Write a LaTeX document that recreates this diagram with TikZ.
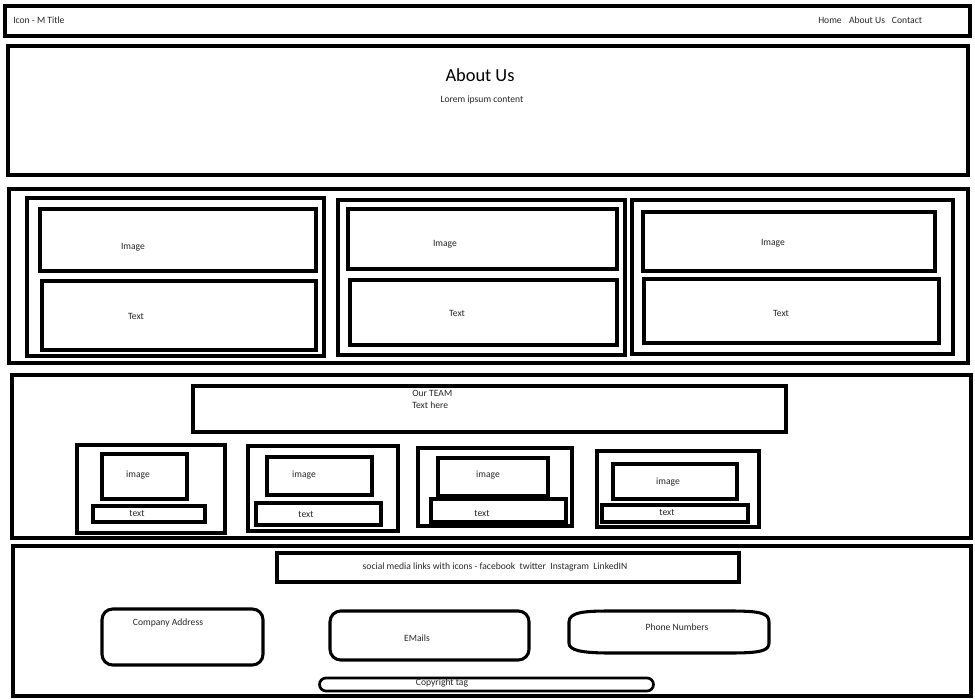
\documentclass[tikz,border=0pt]{standalone}
\usepackage{fontspec}
\setmainfont{Carlito}
\usetikzlibrary{fit,shapes.misc}
\begin{document}
\begin{tikzpicture}[x=0.75pt,y=-0.75pt,
  box/.style={draw, line width=2.5pt, inner sep=0pt},
  lbl/.style={font=\fontsize{7.2}{8.8}\selectfont, inner sep=0pt, text=black!85},
  rbox/.style={draw, line width=2.3pt, inner sep=0pt, rounded corners=8pt}]
\useasboundingbox (0,0) rectangle (975,699);
% header
\node[box, line width=2.7pt, fit={(5,6) (970,36)}] (hdr) {};
\node[lbl, anchor=west] (title) at (13,20) {Icon - M Title};
\node[lbl] (home) at (830,20) {Home};
\node[lbl] (about) at (867,20) {About Us};
\node[lbl] (contact) at (907,20) {Contact};
% about us
\node[box, fit={(8,46) (968,175)}] (aboutbox) {};
\node[inner sep=0pt, font=\fontsize{13.8}{15}\selectfont] (aboutt) at (480,75) {About Us};
\node[lbl] (lorem) at (482,100) {Lorem ipsum content};
% section 3
\node[box, fit={(9,189) (968,363)}] (sec3) {};
\node[box, fit={(27,198) (324,356)}] (c1) {};
\node[box, fit={(40,209) (316,271)}] (c1i) {};
\node[box, fit={(42,281) (316,350)}] (c1t) {};
\node[lbl] (c1il) at (133,247) {Image};
\node[lbl] (c1tl) at (136,316) {Text};
\node[box, fit={(338,200) (625,355)}] (c2) {};
\node[box, fit={(348,209) (617,269)}] (c2i) {};
\node[box, fit={(350,280) (617,345)}] (c2t) {};
\node[lbl] (c2il) at (445,244) {Image};
\node[lbl] (c2tl) at (457,313) {Text};
\node[box, fit={(632,200) (953,354)}] (c3) {};
\node[box, fit={(643,212) (935,271)}] (c3i) {};
\node[box, fit={(644,279) (939,343)}] (c3t) {};
\node[lbl] (c3il) at (773,243) {Image};
\node[lbl] (c3tl) at (781,313) {Text};
% section 4 team
\node[box, fit={(12,375) (971,538)}] (sec4) {};
\node[box, fit={(193,386) (786,432)}] (teamhead) {};
\node[lbl, anchor=north west, align=left] (teamt) at (412,390) {Our TEAM\\Text here};
\node[box, fit={(77,445) (225,533)}] (t1) {};
\node[box, fit={(102,454) (187,499)}] (t1i) {};
\node[box, fit={(93,506) (205,522)}] (t1t) {};
\node[lbl] (t1il) at (138,475) {image};
\node[lbl] (t1tl) at (137,513) {text};
\node[box, fit={(248,446) (398,531)}] (t2) {};
\node[box, fit={(267,457) (372,495)}] (t2i) {};
\node[box, fit={(256,503) (381,525)}] (t2t) {};
\node[lbl] (t2il) at (304,475) {image};
\node[lbl] (t2tl) at (306,514) {text};
\node[box, fit={(418,448) (572,526)}] (t3) {};
\node[box, fit={(438,458) (548,496)}] (t3i) {};
\node[box, fit={(431,499) (566,522)}] (t3t) {};
\node[lbl] (t3il) at (488,475) {image};
\node[lbl] (t3tl) at (482,513) {text};
\node[box, fit={(597,451) (759,527)}] (t4) {};
\node[box, fit={(613,464) (737,499)}] (t4i) {};
\node[box, fit={(602,505) (748,522)}] (t4t) {};
\node[lbl] (t4il) at (668,482) {image};
\node[lbl] (t4tl) at (667,512) {text};
% footer
\node[box, fit={(13,546) (971,696)}] (sec5) {};
\node[box, fit={(277,553) (739,582)}] (social) {};
\node[lbl] (socialt) at (495,567) {social media links with icons - facebook\ \ twitter\ \ Instagram\ \ LinkedIN};
\node[rbox, fit={(102,609) (263,665)}] (addr) {};
\node[lbl] (addrt) at (168,623) {Company Address};
\node[rbox, fit={(330,611) (529,660)}] (mail) {};
\node[lbl] (mailt) at (417,638) {EMails};
\node[inner sep=0pt, fit={(569,611) (769,653)}] (phone) {};
\draw[line width=2.3pt] (569,622) .. controls (569,612) and (585,611) .. (610,611) -- (730,611)
  .. controls (760,611) and (769,613) .. (769,622) -- (769,643)
  .. controls (769,651) and (760,653) .. (730,653) -- (610,653)
  .. controls (580,653) and (569,650) .. (569,643) -- cycle;
\node[lbl] (phonet) at (677,627) {Phone Numbers};
\node[draw, line width=2pt, rounded rectangle, inner sep=0pt, fit={(326,678) (647,691)}] (copy) {};
\node[lbl] (copyt) at (442,683) {Copyright tag};
\end{tikzpicture}
\end{document}
